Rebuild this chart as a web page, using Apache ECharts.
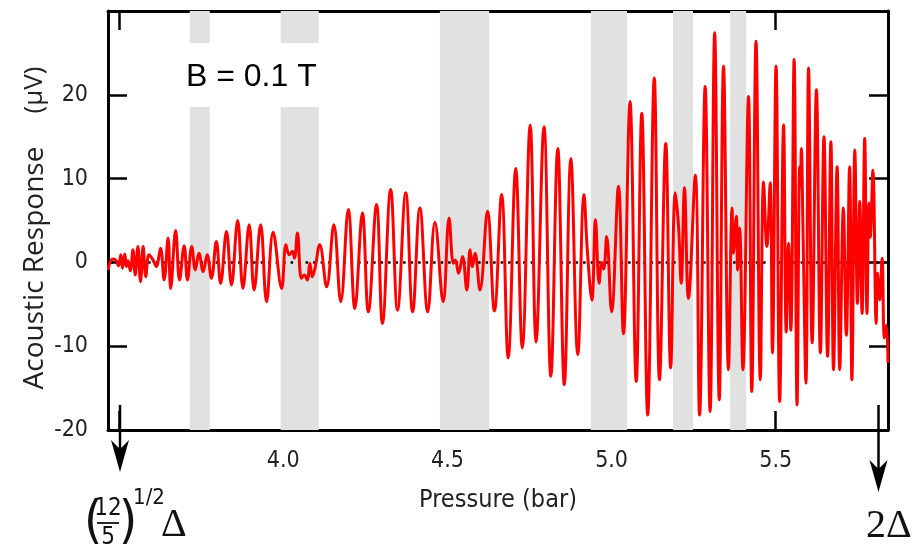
<!DOCTYPE html>
<html><head><meta charset="utf-8">
<script src="https://cdn.jsdelivr.net/npm/echarts@6/dist/echarts.min.js"></script>
<style>html,body{margin:0;padding:0;background:#fff}#c{width:913px;height:545px}</style>
</head><body><div id="c"></div>
<script>
const pressure = [3.467,3.471,3.481,3.491,3.498,3.505,3.510,3.517,3.522,3.527,
3.534,3.542,3.549,3.557,3.565,3.573,3.581,3.591,3.603,3.613,
3.626,3.637,3.649,3.657,3.672,3.684,3.698,3.708,3.721,3.732,
3.743,3.756,3.768,3.781,3.796,3.809,3.827,3.842,3.861,3.877,
3.896,3.911,3.931,3.949,3.969,3.995,4.008,4.018,4.028,4.034,
4.043,4.055,4.064,4.073,4.081,4.088,4.096,4.111,4.132,4.154,
4.175,4.198,4.218,4.241,4.259,4.284,4.302,4.327,4.348,4.373,
4.394,4.416,4.440,4.462,4.487,4.505,4.518,4.524,4.534,4.546,
4.559,4.569,4.576,4.584,4.599,4.622,4.643,4.665,4.685,4.708,
4.728,4.752,4.770,4.794,4.815,4.836,4.856,4.876,4.897,4.916,
4.926,4.940,4.951,4.962,4.970,4.976,4.985,5.000,5.021,5.036,
5.056,5.075,5.092,5.110,5.130,5.146,5.165,5.180,5.194,5.204,
5.212,5.222,5.234,5.255,5.268,5.285,5.300,5.314,5.328,5.341,
5.356,5.367,5.371,5.380,5.384,5.390,5.400,5.417,5.427,5.440,
5.453,5.463,5.473,5.483,5.490,5.501,5.512,5.524,5.532,5.539,
5.546,5.556,5.565,5.573,5.575,5.578,5.583,5.592,5.600,5.611,
5.624,5.636,5.647,5.658,5.668,5.676,5.687,5.695,5.706,5.715,
5.725,5.732,5.741,5.749,5.756,5.763,5.771,5.778,5.784,5.788,
5.796,5.806,5.810,5.817,5.824,5.831,5.837,5.842];
const response = [-0.9,-0.1,0.4,0.2,-0.4,0.9,-0.7,1.0,-0.5,0.2,
-1.0,1.5,-1.5,1.9,-2.3,1.9,-1.7,0.9,0.3,-0.5,
1.7,-2.1,2.9,-3.1,3.8,-2.1,2.0,-2.1,1.9,-0.9,
1.1,-1.1,0.9,-1.9,2.5,-2.5,3.7,-2.7,5.0,-3.1,
4.5,-3.3,4.5,-4.7,3.6,-3.1,2.1,0.9,1.3,0.5,
3.5,-1.9,-1.5,-2.1,-0.1,-1.7,-0.8,2.1,-2.9,4.5,
-4.7,6.3,-5.5,5.9,-5.9,6.9,-7.3,8.7,-5.7,8.3,
-5.9,6.5,-5.9,4.8,-4.7,5.3,-0.1,0.3,-1.3,0.7,
-3.3,1.5,-0.5,1.1,-3.3,6.1,-5.8,8.1,-11.4,11.2,
-10.2,16.4,-9.5,16.2,-13.6,13.6,-14.6,12.4,-11.0,8.1,
1.5,-4.5,5.1,-2.5,0,-0.8,3.1,-5.9,9.1,-8.5,
19.2,-14.2,17.8,-18.2,22.0,-14.0,14.2,-12.6,8.3,4.3,
-2.5,8.9,-4.3,10.4,-18.2,21.0,-17.8,27.4,-16.4,23.4,
-12.8,6.5,1.1,5.5,-0.9,4.1,-12.8,19.8,-15.4,26.4,
-14.0,9.6,1.9,9.5,-10.8,23.4,-16.6,16.4,-8.3,2.3,
-8.1,24.2,-17.0,11.4,9.0,13.6,4.0,-14.4,23.2,-9.6,
20.6,-10.8,15.0,-11.2,14.4,-12.8,11.4,-12.8,6.5,-8.7,
11.4,-14.0,13.4,-4.9,7.3,-6.1,14.8,-6.1,7.1,3.0,
11.0,-7.3,-1.3,-4.5,0.5,-9.0,-7.5,-12.0];
const bandStarts = [3.715,3.992,4.477,4.937,5.187,5.361];
const bandEnds   = [3.776,4.108,4.627,5.047,5.248,5.410];
const xTickValues = [3.5,4.0,4.5,5.0,5.5];
const xLabelValues = [4.0,4.5,5.0,5.5];
const yTickValues = [-10,0,10,20];
const yLabelValues = [-20,-10,0,10,20];
const xMin = 3.466, xMax = 5.842, yMin = -20, yMax = 30;

const condensed = '"DejaVu Sans Condensed", "DejaVu Sans", sans-serif';
const serif = '"Liberation Serif", "DejaVu Serif", serif';
const light = '"DejaVu Sans ExtraLight", "DejaVu Sans Condensed", sans-serif';
const chart = echarts.init(document.getElementById('c'), null, {renderer:'canvas'});
const pts = pressure.map((p,i)=>[p, response[i]]);
const tickStyle = {inside:true, length:19, lineStyle:{color:'#000', width:2.5}};
const axisLine = {show:true, onZero:false, lineStyle:{color:'#000', width:3}};

chart.setOption({
  animation:false,
  backgroundColor:'#fff',
  grid:{left:108, right:25, top:11, bottom:115, containLabel:false, outerBoundsMode:'none'},
  xAxis:[{
    type:'value', position:'bottom', min:xMin, max:xMax,
    axisLine:axisLine,
    axisTick:Object.assign({customValues:xTickValues}, tickStyle),
    axisLabel:{customValues:xLabelValues, formatter:v=>v.toFixed(1), fontFamily:condensed, fontSize:23, color:'#222', margin:20},
    splitLine:{show:false},
    name:'Pressure (bar)', nameLocation:'middle', nameGap:58,
    nameTextStyle:{fontFamily:condensed, fontSize:25, color:'#222'}
  },{
    type:'value', position:'top', min:xMin, max:xMax,
    axisLine:axisLine,
    axisTick:Object.assign({customValues:xTickValues}, tickStyle),
    axisLabel:{show:false}, splitLine:{show:false}
  }],
  yAxis:[{
    type:'value', position:'left', min:yMin, max:yMax,
    axisLine:axisLine,
    axisTick:Object.assign({customValues:yTickValues}, tickStyle),
    axisLabel:{customValues:yLabelValues, fontFamily:condensed, fontSize:23, color:'#222', margin:20},
    splitLine:{show:false}
  },{
    type:'value', position:'right', min:yMin, max:yMax,
    axisLine:axisLine,
    axisTick:Object.assign({customValues:yTickValues}, tickStyle),
    axisLabel:{show:false}, splitLine:{show:false}
  }],
  series:[{
    name:'zero', type:'line', data:[[3.474,0],[5.836,0]], symbol:'none', z:1,
    lineStyle:{color:'#000', width:2.5, type:[2.5,5]},
    markArea:{silent:true, itemStyle:{color:'#e1e1e1'},
      data: bandStarts.map((s,i)=>[{xAxis:s},{xAxis:bandEnds[i]}])}
  },{
    name:'response', type:'line', data:pts, symbol:'none', z:3,
    smooth:0.4, lineStyle:{color:'#ff0000', width:3}
  }],
  graphic:[
    {type:'rect', z:10, shape:{x:182, y:43, width:146, height:64}, style:{fill:'#fff'}},
    {type:'text', z:11, x:186, y:77, style:{text:'B = 0.1 T', fontFamily:'"Liberation Sans", Arial, sans-serif', fontSize:32, fill:'#000', align:'left', verticalAlign:'middle'}},
    {type:'text', z:11, x:35, y:268, rotation:Math.PI/2, style:{text:'Acoustic Response', fontFamily:'"Open Sans", sans-serif', fontSize:28, fill:'#222', align:'center', verticalAlign:'middle'}},
    {type:'text', z:11, x:35, y:90, rotation:Math.PI/2, style:{text:'(μV)', fontFamily:'"Open Sans", sans-serif', fontSize:26, fill:'#222', align:'center', verticalAlign:'middle'}},
    {type:'line', z:11, shape:{x1:120, y1:405, x2:120, y2:455}, style:{stroke:'#000', lineWidth:2.5}},
    {type:'polygon', z:11, shape:{points:[[120,472],[111,440],[120,449],[129,440]]}, style:{fill:'#000'}},
    {type:'line', z:11, shape:{x1:878.5, y1:405, x2:878.5, y2:475}, style:{stroke:'#000', lineWidth:2.5}},
    {type:'polygon', z:11, shape:{points:[[878.5,492],[869.5,460],[878.5,469],[887.5,460]]}, style:{fill:'#000'}},
    {type:'text', z:11, x:84, y:523, style:{text:'(', fontFamily:light, fontSize:52, fill:'#111', align:'left', verticalAlign:'middle'}},
    {type:'text', z:11, x:108, y:509, style:{text:'12', fontFamily:condensed, fontSize:24, fill:'#111', align:'center', verticalAlign:'middle'}},
    {type:'line', z:11, shape:{x1:97, y1:523, x2:119, y2:523}, style:{stroke:'#111', lineWidth:1.8}},
    {type:'text', z:11, x:108, y:538, style:{text:'5', fontFamily:condensed, fontSize:24, fill:'#111', align:'center', verticalAlign:'middle'}},
    {type:'text', z:11, x:119, y:523, style:{text:')', fontFamily:light, fontSize:52, fill:'#111', align:'left', verticalAlign:'middle'}},
    {type:'text', z:11, x:149, y:498, style:{text:'1/2', fontFamily:condensed, fontSize:22, fill:'#111', align:'center', verticalAlign:'middle'}},
    {type:'text', z:11, x:161, y:525, style:{text:'Δ', fontFamily:serif, fontSize:40, fill:'#111', align:'left', verticalAlign:'middle'}},
    {type:'text', z:11, x:866, y:526, style:{text:'2Δ', fontFamily:serif, fontSize:40, fill:'#111', align:'left', verticalAlign:'middle'}}
  ]
});
</script></body></html>
